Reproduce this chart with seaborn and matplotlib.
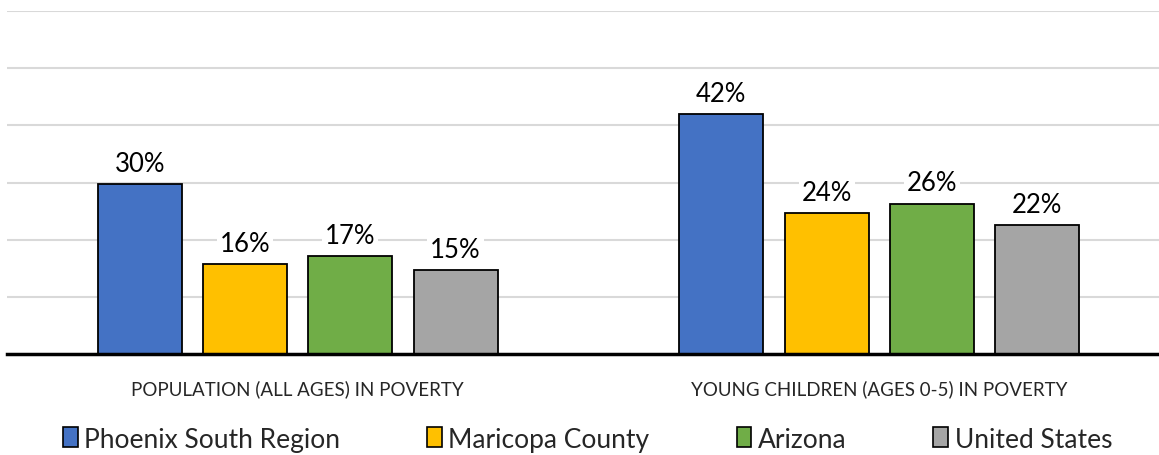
import matplotlib
matplotlib.use("Agg")
import matplotlib.pyplot as plt
from matplotlib.patches import Patch
import pandas as pd
import seaborn as sns

# data
categories = ["POPULATION (ALL AGES) IN POVERTY", "YOUNG CHILDREN (AGES 0-5) IN POVERTY"]
regions = ["Phoenix South Region", "Maricopa County", "Arizona", "United States"]
phoenix = [29.7, 42.0]
maricopa = [15.7, 24.6]
arizona = [17.1, 26.3]
united_states = [14.7, 22.5]
phoenix_lbl = ["30%", "42%"]
maricopa_lbl = ["16%", "24%"]
arizona_lbl = ["17%", "26%"]
united_states_lbl = ["15%", "22%"]
colors = ["#4472C4", "#FFC000", "#70AD47", "#A5A5A5"]

series = [phoenix, maricopa, arizona, united_states]
labels = [phoenix_lbl, maricopa_lbl, arizona_lbl, united_states_lbl]

df = pd.DataFrame(
    [{"Category": c, "Region": r, "Value": v[i]}
     for r, v in zip(regions, series) for i, c in enumerate(categories)]
)

sns.set_theme(style="white")
plt.rcParams["font.family"] = ["Lato", "DejaVu Sans"]

fig = plt.figure(figsize=(11.59, 4.56), dpi=100)
ax = fig.add_axes([7 / 1159, 101 / 456, 1163 / 1159, 343 / 456])

sns.barplot(data=df, x="Category", y="Value", hue="Region", order=categories,
            hue_order=regions, palette=colors, width=0.724, gap=0.2,
            edgecolor="black", linewidth=1.3, saturation=1, ax=ax, legend=False)

ax.set_ylim(0, 60)
ax.set_xlim(-0.5, 1.5)
ax.set_yticks([10, 20, 30, 40, 50, 60])
ax.yaxis.grid(True, color="#D9D9D9", linewidth=1.5)
ax.set_axisbelow(True)
ax.tick_params(axis="y", left=False, labelleft=False)
ax.tick_params(axis="x", bottom=False, pad=12, labelsize=13.5, labelcolor="#262626")
ax.set_xlabel("")
ax.set_ylabel("")
for side in ["top", "right", "left"]:
    ax.spines[side].set_visible(False)
ax.spines["bottom"].set_color("black")
ax.spines["bottom"].set_linewidth(2.5)

for cont, lbl in zip(ax.containers, labels):
    texts = ax.bar_label(cont, labels=lbl, padding=6, fontsize=18.5, color="black")
    for t in texts:
        t.set_bbox(dict(facecolor="white", edgecolor="none", pad=2))

handles = [Patch(facecolor=c, edgecolor="black", linewidth=1.2) for c in colors]
fig.legend(handles, regions, loc="center", bbox_to_anchor=(0.507, 0.035), ncol=4,
           frameon=False, fontsize=19, handlelength=0.55, handleheight=0.8,
           handletextpad=0.25, columnspacing=3.3)

fig.savefig("out.png", dpi=100)
